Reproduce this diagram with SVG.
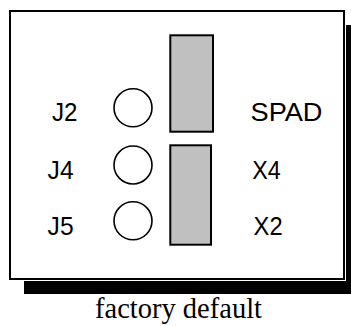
<svg xmlns="http://www.w3.org/2000/svg" width="351" height="326" viewBox="0 0 351 326">
<style>
.lbl{font-family:"Liberation Sans",Arial,sans-serif;font-size:26px;fill:#000}
.pin{fill:#fff;stroke:#000;stroke-width:1.6}
.jmp{fill:#c0c0c0;stroke:#000;stroke-width:2}
</style>
<rect x="0" y="0" width="351" height="326" fill="#fff"/>
<g id="board">
<rect x="24" y="25" width="327" height="269" fill="#000"/>
<rect x="8" y="9" width="338" height="272" fill="#fff"/>
<rect x="10" y="11" width="334" height="268" fill="none" stroke="#000" stroke-width="2"/>
</g>
<g id="jumper-top"><rect class="jmp" x="170.3" y="35.3" width="42.7" height="96.4"/></g>
<g id="jumper-bottom"><rect class="jmp" x="170.3" y="145.3" width="40.7" height="99.4"/></g>
<g id="pin-J2"><circle class="pin" cx="133" cy="107.8" r="19"/></g>
<g id="pin-J4"><circle class="pin" cx="133" cy="165" r="19"/></g>
<g id="pin-J5"><circle class="pin" cx="133" cy="220.8" r="19"/></g>
<g id="connectors"></g>
<g id="labels">
<text class="lbl" x="52" y="121" textLength="25.5" lengthAdjust="spacingAndGlyphs">J2</text>
<text class="lbl" x="47.6" y="179" textLength="26" lengthAdjust="spacingAndGlyphs">J4</text>
<text class="lbl" x="47.6" y="235" textLength="26" lengthAdjust="spacingAndGlyphs">J5</text>
<text class="lbl" x="250.5" y="121.3" textLength="72" lengthAdjust="spacingAndGlyphs">SPAD</text>
<text class="lbl" x="252.3" y="179" textLength="28.5" lengthAdjust="spacingAndGlyphs">X4</text>
<text class="lbl" x="253.6" y="235.3" textLength="29" lengthAdjust="spacingAndGlyphs">X2</text>
</g>
<g id="caption">
<text x="178.5" y="318" text-anchor="middle" font-family="'Liberation Serif','Times New Roman',serif" font-size="28.5" fill="#000">factory default</text>
</g>
</svg>
